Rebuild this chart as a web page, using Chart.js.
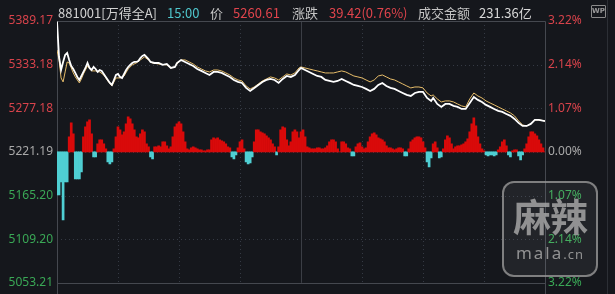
<!DOCTYPE html>
<html><head><meta charset="utf-8">
<script src="https://cdn.jsdelivr.net/npm/chart.js@4/dist/chart.umd.min.js"></script>
<style>
html,body{margin:0;padding:0;background:#15171c;width:615px;height:294px;overflow:hidden}
#wrap{position:relative;width:615px;height:294px}
canvas{position:absolute;left:0;top:0}
#hdr{position:absolute;top:4px;left:0;width:615px;height:18px;font-family:"Noto Sans CJK SC","Noto Sans",sans-serif;font-size:13px}
#hdr span{position:absolute;top:0;line-height:18px;white-space:nowrap}
#wm{position:absolute;left:502px;top:181px;width:92px;height:92px;border:2px solid rgba(150,150,150,0.8);border-radius:12px;background:rgba(255,255,255,0.06);text-align:center;color:rgba(165,165,165,0.85)}
#wm .cn{font-family:"Noto Sans CJK SC";font-weight:bold;font-size:38px;line-height:40px;margin-top:12px;letter-spacing:-1px}
#wm .en{font-family:"Noto Sans",sans-serif;font-size:17px;line-height:20px;letter-spacing:2px;margin-top:8px}
#wm .en small{font-size:13px;letter-spacing:1px}
#wp{position:absolute;left:591px;top:5px;width:13px;height:11px;border:1px solid #8a8a8a;border-radius:1px;font:bold 7px "DejaVu Sans",sans-serif;color:#9a9a9a;text-align:center;line-height:11px}
</style></head>
<body><div id="wrap">
<canvas id="c" width="615" height="294"></canvas>
<div id="hdr">
<span style="left:58px;color:#d2d2d2">881001[万得全A]</span>
<span style="left:167px;color:#4fc6cc">15:00</span>
<span style="left:210px;color:#c4c4c4">价</span>
<span style="left:233px;color:#e0444c">5260.61</span>
<span style="left:292px;color:#c4c4c4">涨跌</span>
<span style="left:329px;color:#e0444c">39.42(0.76%)</span>
<span style="left:418px;color:#c4c4c4">成交金额</span>
<span style="left:479px;color:#d8d8d8">231.36亿</span>
</div>
<div id="wp">WP</div>
<div id="wm"><div class="cn">麻辣</div><div class="en">mala<small>.cn</small></div></div>
</div>
<script>
const prevClose = 5221.19;
const leftTicks = [5389.17, 5333.18, 5277.18, 5221.19, 5165.20, 5109.20, 5053.21];
const rightTicks = ['3.22%', '2.14%', '1.07%', '0.00%', '1.07%', '2.14%', '3.22%'];
const timeTicks = [0, 30, 60, 90, 120, 150, 180, 210, 240];

const priceMin = [0,1,2,3,4,5,6,7,8,9,10,11,12,13,14,15,16,17,18,19,20,21,22,23,24,25,26,27,28,29,30,31,32,33,34,35,36,37,38,39,40,41,42,43,44,45,46,48,50,52,54,56,58,59,61,63,65,67,69,71,73,75,77,79,81,83,85,87,89,91,93,95,97,99,101,103,105,107,109,111,113,115,117,119,120,122,124,126,128,130,132,134,136,138,140,142,144,146,148,150,152,154,156,158,160,162,164,166,168,170,172,174,176,178,180,182,184,185,187,189,191,193,195,197,199,201,203,205,207,209,211,213,215,217,219,221,223,225,227,229,231,233,235,237,240];
const priceVal = [5388.5,5343.0,5326.3,5336.6,5345.6,5348.1,5339.2,5331.5,5327.6,5322.5,5317.4,5313.5,5318.6,5323.8,5328.9,5335.3,5328.9,5326.3,5330.2,5327.6,5323.8,5326.3,5325.1,5321.2,5317.4,5313.5,5309.7,5307.1,5313.5,5319.9,5321.2,5317.4,5316.1,5321.2,5326.3,5330.2,5332.8,5335.3,5336.6,5336.6,5337.9,5341.7,5344.3,5345.6,5343.0,5340.4,5336.6,5335.3,5335.3,5332.8,5334.0,5328.9,5330.2,5335.3,5339.2,5336.6,5334.0,5331.5,5327.6,5325.1,5322.5,5319.9,5323.8,5323.8,5322.5,5319.9,5317.4,5313.5,5311.0,5309.7,5303.3,5299.4,5303.3,5307.1,5311.0,5313.5,5314.8,5313.5,5309.7,5314.8,5318.6,5317.4,5319.9,5326.3,5328.9,5326.3,5323.8,5321.2,5318.6,5317.4,5313.5,5312.2,5311.0,5312.2,5314.8,5312.2,5309.7,5307.1,5305.8,5304.5,5302.0,5299.4,5302.0,5307.1,5309.7,5305.8,5303.3,5302.0,5299.4,5296.8,5294.3,5293.0,5296.8,5298.1,5298.1,5290.4,5286.6,5290.4,5282.7,5278.9,5282.7,5282.7,5280.2,5278.9,5276.3,5276.3,5284.0,5291.7,5287.9,5285.3,5281.5,5278.9,5276.3,5273.8,5272.5,5269.9,5267.4,5263.5,5258.4,5254.5,5254.5,5257.1,5262.2,5262.2,5260.61];

const avgMin = [0,1,2,3,4,5,6,7,8,9,10,11,12,13,15,17,19,21,23,25,27,29,31,33,35,37,39,41,43,45,47,50,54,56,58,59,61,63,65,67,69,71,73,75,77,79,81,83,85,87,89,91,93,95,97,99,101,103,105,107,109,111,113,115,117,119,120,122,124,126,128,130,132,134,136,138,140,142,144,146,148,150,152,154,156,158,160,162,164,166,168,170,172,174,176,178,180,182,184,185,187,189,191,193,195,197,199,201,203,205,207,209,211,213,215,217,219,221,223,225,227,229,231,233,235,237,240];
const avgVal = [5352.0,5339.2,5316.1,5311.0,5323.8,5336.6,5335.3,5328.9,5322.5,5317.4,5313.5,5309.7,5314.8,5321.2,5331.5,5325.1,5325.1,5323.8,5319.9,5312.2,5305.8,5316.1,5316.1,5318.6,5327.6,5332.8,5335.3,5339.2,5343.0,5339.2,5335.3,5334.0,5332.8,5328.9,5330.2,5334.0,5339.2,5339.2,5336.6,5334.0,5330.2,5327.6,5325.1,5323.8,5326.3,5326.3,5325.1,5322.5,5319.9,5316.1,5313.5,5312.2,5305.8,5302.0,5304.5,5308.4,5312.2,5314.8,5317.4,5316.1,5313.5,5317.4,5321.2,5319.9,5322.5,5328.9,5330.2,5328.9,5327.6,5326.3,5325.1,5323.8,5322.5,5322.5,5322.5,5323.8,5325.1,5323.8,5321.2,5318.6,5317.4,5316.1,5313.5,5311.0,5313.5,5318.6,5319.9,5317.4,5314.8,5313.5,5311.0,5308.4,5305.8,5303.3,5304.5,5304.5,5303.3,5296.8,5293.0,5294.3,5289.2,5285.3,5286.6,5286.6,5285.3,5282.7,5280.2,5278.9,5289.2,5296.8,5293.0,5290.4,5286.6,5284.0,5281.5,5278.9,5276.3,5273.8,5271.2,5267.4,5261.0,5255.8,5254.5,5257.1,5262.2,5262.2,5261.0];

// per-minute breadth histogram (minute 0..240)
const flowVal = [
-43,-43,-30,-68,-30,-30,15,29,18,-27,
-27,-27,-20,15,25,30,32,18,-5,-5,
8,12,12,8,3,-10,-12,-10,3,15,
25,22,17,20,28,35,33,28,22,15,
14,18,22,20,8,5,-5,-7,5,5,
6,5,10,10,6,3,5,15,25,28,
30,28,20,10,3,2,4,5,4,3,
2,2,1,1,2,2,12,14,13,14,
12,11,10,8,5,4,-5,-7,-3,4,
10,12,3,-10,-12,-11,-5,10,22,22,
20,19,18,16,14,12,8,5,-3,5,
22,25,24,12,6,10,20,22,20,14,
20,22,15,5,4,3,3,3,4,4,
3,3,4,6,10,12,12,10,3,0,
10,10,8,4,3,-4,-4,5,8,9,
5,3,4,10,15,18,19,17,14,13,
12,10,6,4,4,3,2,3,4,4,
3,-4,-4,3,10,12,14,15,15,14,
10,4,-10,-15,-6,8,10,4,-6,-5,
3,12,16,14,8,3,5,6,6,7,
8,10,13,20,28,34,26,15,8,3,
1,-3,-4,-3,-3,-4,-3,2,5,10,
12,6,-3,-5,1,2,2,-4,-8,-3,
3,8,15,20,20,18,16,12,8,4,
0];

const RED = '#d90a0a', CYAN = '#4fcfd3';
const LRED = '#d8434b', LGREEN = '#3aa856', LGREY = '#a9a9a9';

function tickColor(v){
  if (v > prevClose + 0.005) return LRED;
  if (v < prevClose - 0.005) return LGREEN;
  return LGREY;
}

const gridPlugin = {
  id: 'gridPlugin',
  beforeDatasetsDraw(chart){
    const {ctx, chartArea: a, scales} = chart;
    const x = scales.x, y = scales.y;
    ctx.save();
    ctx.lineWidth = 1;
    ctx.strokeStyle = '#353a44';
    ctx.setLineDash([1, 3]);
    leftTicks.forEach((v, i) => {
      if (i === 0 || i === leftTicks.length - 1) return;
      const py = Math.round(y.getPixelForValue(v)) + 0.5;
      ctx.beginPath(); ctx.moveTo(a.left, py); ctx.lineTo(a.right, py); ctx.stroke();
    });
    timeTicks.forEach(t => {
      if (t === 0 || t === 240 || t === 120) return;
      const px = Math.round(x.getPixelForValue(t)) + 0.5;
      ctx.beginPath(); ctx.moveTo(px, a.top); ctx.lineTo(px, a.bottom); ctx.stroke();
    });
    ctx.setLineDash([]);
    ctx.strokeStyle = '#3b3e45';
    const mid = Math.round(x.getPixelForValue(120)) + 0.5;
    ctx.beginPath(); ctx.moveTo(mid, a.top); ctx.lineTo(mid, a.bottom); ctx.stroke();
    ctx.strokeStyle = '#45484f';
    const l = Math.round(a.left) + 0.5, r = Math.round(a.right) + 0.5;
    const t = Math.round(a.top) + 0.5, b = Math.round(a.bottom) + 0.5;
    ctx.beginPath();
    ctx.moveTo(l, t); ctx.lineTo(r, t);
    ctx.moveTo(l, b); ctx.lineTo(r, b);
    ctx.moveTo(l, t); ctx.lineTo(l, chart.height);
    ctx.moveTo(r, t); ctx.lineTo(r, chart.height);
    ctx.stroke();
    ctx.strokeStyle = '#2c2f35';
    ctx.beginPath(); ctx.moveTo(607.5, 0); ctx.lineTo(607.5, chart.height); ctx.stroke();
    ctx.restore();
  }
};

new Chart(document.getElementById('c'), {
  type: 'line',
  data: {
    datasets: [
      {
        type: 'line', label: 'price', order: 0,
        data: priceMin.map((m, i) => ({x: m, y: priceVal[i]})),
        borderColor: '#ffffff', borderWidth: 1.8, pointRadius: 0, tension: 0,
        yAxisID: 'y', xAxisID: 'x'
      },
      {
        type: 'line', label: 'avg', order: 1,
        data: avgMin.map((m, i) => ({x: m, y: avgVal[i]})),
        borderColor: '#e7bd6a', borderWidth: 1, pointRadius: 0, tension: 0,
        yAxisID: 'y', xAxisID: 'x'
      },
      {
        type: 'bar', label: 'flow', order: 2,
        data: flowVal.map((v, i) => ({x: i, y: v})),
        backgroundColor: ctx => (ctx.raw && ctx.raw.y < 0) ? CYAN : RED,
        borderWidth: 0, barPercentage: 1, categoryPercentage: 1, grouped: false,
        yAxisID: 'yb', xAxisID: 'x'
      }
    ]
  },
  options: {
    responsive: false, animation: false, devicePixelRatio: 1,
    layout: {padding: {top: 21, bottom: 11, left: 0, right: 0}},
    plugins: {legend: {display: false}, tooltip: {enabled: false}},
    scales: {
      x: {type: 'linear', min: 0, max: 240, offset: false, display: false,
          afterBuildTicks: s => { s.ticks = timeTicks.map(v => ({value: v})); }},
      y: {
        position: 'left', min: leftTicks[6], max: leftTicks[0],
        afterBuildTicks: s => { s.ticks = leftTicks.map(v => ({value: v})); },
        afterFit: s => { s.width = 57; },
        grid: {display: false, drawTicks: false}, border: {display: false},
        ticks: {
          autoSkip: false, padding: 4,
          font: {family: 'Noto Sans', size: 12},
          color: c => tickColor(c.tick.value),
          callback: v => v.toFixed(2)
        }
      },
      yr: {
        position: 'right', min: leftTicks[6], max: leftTicks[0],
        afterBuildTicks: s => { s.ticks = leftTicks.map(v => ({value: v})); },
        afterFit: s => { s.width = 70; },
        grid: {display: false, drawTicks: false}, border: {display: false},
        ticks: {
          autoSkip: false, padding: 3,
          font: {family: 'Noto Sans', size: 12},
          color: c => tickColor(c.tick.value),
          callback: (v, i) => rightTicks[i]
        }
      },
      yb: {display: false, min: -131, max: 131}
    }
  },
  plugins: [gridPlugin]
});
</script>
</body></html>
